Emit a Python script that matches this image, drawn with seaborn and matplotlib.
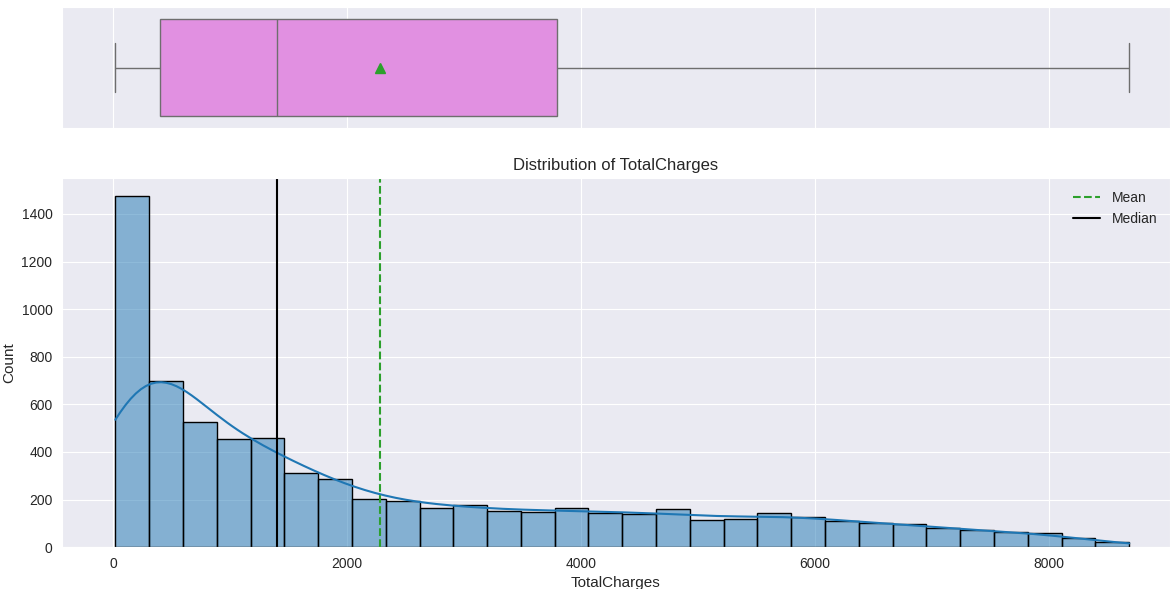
import numpy as np
import pandas as pd
import matplotlib
matplotlib.use("Agg")
import matplotlib.pyplot as plt
import seaborn as sns

# ---- data ----
feature = "TotalCharges"
data_min = 18.8
data_max = 8684.8
n_bins = 30
bin_counts = [1477, 700, 524, 454, 458, 313, 285, 201, 195, 166,
              177, 153, 148, 163, 145, 138, 159, 114, 119, 145,
              128, 108, 100, 97, 79, 72, 63, 60, 37, 20]
q1 = 401.45
median_val = 1397.475
q3 = 3794.74
mean_val = 2283.3

# ---- derived ----
edges = np.linspace(data_min, data_max, n_bins + 1)
centers = (edges[:-1] + edges[1:]) / 2
hist_values = np.repeat(centers, bin_counts)
box_values = np.array([data_min, q1, median_val, q3, data_max])

sns.set_style("darkgrid")
plt.rcParams["font.family"] = ["Liberation Sans", "DejaVu Sans"]
plt.rcParams["axes.titlesize"] = 12
plt.rcParams["axes.labelsize"] = 11
plt.rcParams["xtick.labelsize"] = 10
plt.rcParams["ytick.labelsize"] = 10
plt.rcParams["legend.fontsize"] = 10

fig, (ax_box, ax_hist) = plt.subplots(
    2, 1, sharex=True, figsize=(11.72, 5.89), dpi=100,
    gridspec_kw={"height_ratios": [121, 369]},
)
fig.subplots_adjust(left=0.053, right=0.998, top=0.988, bottom=0.071, hspace=0.204)

sns.boxplot(x=box_values, ax=ax_box, color="violet", showmeans=False, width=0.8)
ax_box.plot([mean_val], [0], marker="^", color="#2ca02c", markersize=7,
            linestyle="none", zorder=5)
ax_box.set_yticks([])
ax_box.set_ylim(0.5, -0.5)
ax_box.set_xlabel("")

sns.histplot(x=hist_values, bins=edges, kde=True, ax=ax_hist,
             edgecolor="black", linewidth=1.0,
             kde_kws={"cut": 2, "clip": (data_min, data_max), "bw_adjust": 1.1})
ax_hist.axvline(mean_val, color="#2ca02c", linestyle="--", label="Mean")
ax_hist.axvline(median_val, color="black", linestyle="-", label="Median")
ax_hist.set_title("Distribution of " + feature)
ax_hist.set_xlabel(feature)
ax_hist.set_ylabel("Count")
ax_hist.legend(loc="upper right", frameon=False)
ax_box.tick_params(labelbottom=False)
ax_hist.set_xlim(-436, 9030)

fig.savefig("out.png", dpi=100)
